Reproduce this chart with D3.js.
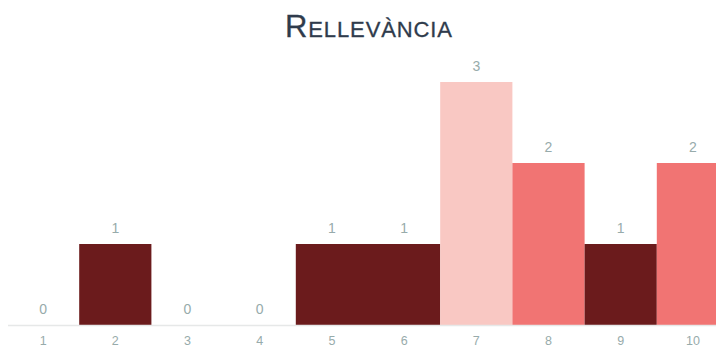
<!DOCTYPE html>
<html>
<head>
<meta charset="utf-8">
<script src="https://cdn.jsdelivr.net/npm/d3@7"></script>
<style>
  html, body { margin: 0; padding: 0; background: #fff; }
  svg { display: block; }
</style>
</head>
<body>
<svg id="chart" width="716" height="347"></svg>
<script>
const categories = ["1", "2", "3", "4", "5", "6", "7", "8", "9", "10"];
const values = [0, 1, 0, 0, 1, 1, 3, 2, 1, 2];
const barColors = ["#6b1b1c", "#6b1b1c", "#6b1b1c", "#6b1b1c", "#6b1b1c", "#6b1b1c", "#f9c8c3", "#f17473", "#6b1b1c", "#f17473"];
const titleText = "Rellevància";

const width = 716, height = 347;
const font = "Liberation Sans, Arial, sans-serif";
const svg = d3.select("#chart");

const x = d3.scaleBand().domain(categories).range([7, 729]).padding(0);
const y = d3.scaleLinear().domain([0, 3]).range([325, 82]);

// title in small capitals: first letter full size, the rest as reduced capitals
const title = svg.append("text")
  .attr("x", 369)
  .attr("y", 37)
  .attr("text-anchor", "middle")
  .attr("font-family", font)
  .attr("fill", "#2f3b4c")
  .attr("stroke", "#2f3b4c")
  .attr("stroke-width", 0.3);
title.append("tspan")
  .attr("font-size", 31)
  .attr("letter-spacing", "0.8px")
  .text(titleText.charAt(0).toUpperCase());
title.append("tspan")
  .attr("font-size", 22)
  .attr("letter-spacing", "0.9px")
  .text(titleText.slice(1).toUpperCase());

// bars
svg.append("g").selectAll("rect")
  .data(values)
  .join("rect")
  .attr("x", (d, i) => x(categories[i]))
  .attr("y", d => y(d))
  .attr("width", x.bandwidth())
  .attr("height", d => y(0) - y(d))
  .attr("fill", (d, i) => barColors[i]);

// baseline
svg.append("line")
  .attr("x1", 8).attr("x2", width)
  .attr("y1", y(0) + 0.5).attr("y2", y(0) + 0.5)
  .attr("stroke", "#e6e8e8")
  .attr("stroke-width", 1.5);

// value labels
svg.append("g").selectAll("text")
  .data(values)
  .join("text")
  .attr("x", (d, i) => x(categories[i]) + x.bandwidth() / 2)
  .attr("y", d => y(d) - 11)
  .attr("text-anchor", "middle")
  .attr("font-family", font)
  .attr("font-size", 14)
  .attr("fill", "#97abab")
  .text(d => d);

// category axis
const axis = svg.append("g")
  .attr("transform", `translate(0, ${y(0)})`)
  .call(d3.axisBottom(x).tickSize(0).tickPadding(11));
axis.select(".domain").remove();
axis.selectAll("text")
  .attr("font-family", font)
  .attr("font-size", 12.5)
  .attr("fill", "#97abab");
</script>
</body>
</html>
